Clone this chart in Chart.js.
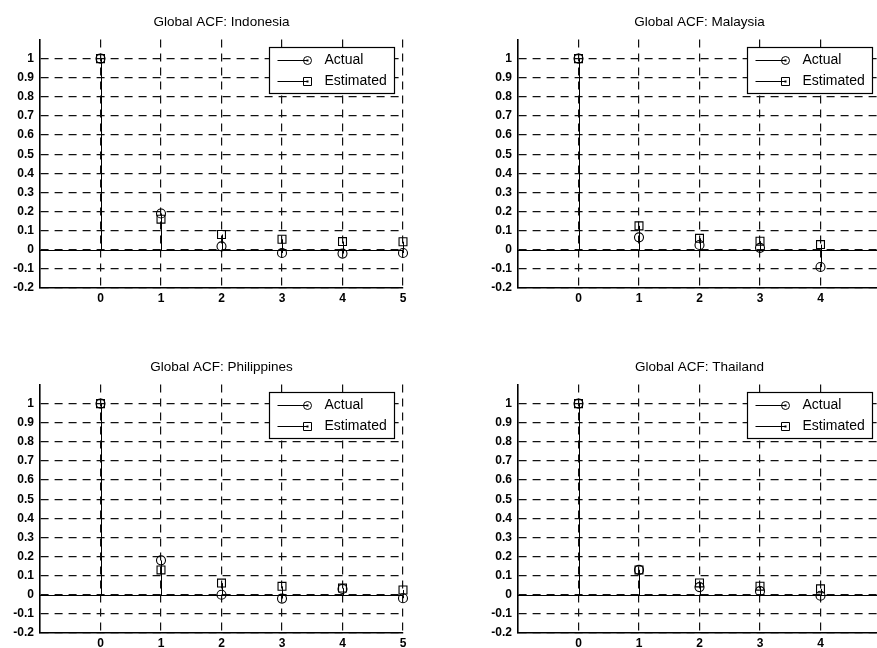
<!DOCTYPE html>
<html>
<head>
<meta charset="utf-8">
<title>Global ACF</title>
<script src="https://cdn.jsdelivr.net/npm/chart.js@4.4.1/dist/chart.umd.min.js"></script>
<style>
  html, body { margin: 0; padding: 0; background: #fff; overflow: hidden; }
  #page { position: relative; width: 877px; height: 648px; overflow: hidden; }
  #page canvas { position: absolute; }
</style>
</head>
<body>
<div id="page">
  <canvas id="indonesia" width="430" height="310" style="left:0;top:0"></canvas>
  <canvas id="malaysia" width="430" height="310" style="left:478px;top:0"></canvas>
  <canvas id="philippines" width="430" height="310" style="left:0;top:345px"></canvas>
  <canvas id="thailand" width="430" height="310" style="left:478px;top:345px"></canvas>
</div>
<script>
// lags shown on each panel
const lagsLong = [0, 1, 2, 3, 4, 5];
const lagsShort = [0, 1, 2, 3, 4];

const indonesiaActual = [1, 0.19, 0.018, -0.017, -0.02, -0.017];
const indonesiaEstimated = [1, 0.16, 0.08, 0.055, 0.043, 0.042];
const malaysiaActual = [1, 0.065, 0.025, 0.01, -0.09];
const malaysiaEstimated = [1, 0.125, 0.06, 0.045, 0.027];
const philippinesActual = [1, 0.18, 0.0, -0.02, 0.03, -0.018];
const philippinesEstimated = [1, 0.13, 0.061, 0.044, 0.035, 0.025];
const thailandActual = [1, 0.13, 0.04, 0.019, -0.005];
const thailandEstimated = [1, 0.13, 0.062, 0.045, 0.031];

const xTicks = [0, 1, 2, 3, 4, 5];
const yTicks = [-0.2, -0.1, 0, 0.1, 0.2, 0.3, 0.4, 0.5, 0.6, 0.7, 0.8, 0.9, 1];

const FONT = '"Liberation Sans", Arial, Helvetica, sans-serif';

// stem lines + zero baseline, drawn under the markers
const stemPlugin = {
  id: 'stems',
  beforeDatasetsDraw(chart) {
    const { ctx, chartArea, scales } = chart;
    const y0 = Math.round(scales.y.getPixelForValue(0)) + 0.5;
    ctx.save();
    ctx.strokeStyle = '#000';
    ctx.lineWidth = 1;
    ctx.beginPath();
    ctx.moveTo(chartArea.left, y0);
    ctx.lineTo(chartArea.right, y0);
    chart.data.datasets.forEach((ds, i) => {
      chart.getDatasetMeta(i).data.forEach(pt => {
        const x = Math.round(pt.x) + 0.5;
        ctx.moveTo(x, y0);
        ctx.lineTo(x, pt.y);
      });
    });
    ctx.stroke();
    ctx.restore();
  }
};

// boxed legend in the top right corner of the axes
const boxLegend = {
  id: 'boxLegend',
  afterDraw(chart) {
    const { ctx, chartArea } = chart;
    const left = Math.round(chartArea.right - 134) + 0.5;
    const top = Math.round(chartArea.top + 7) + 0.5;
    const w = 125, h = 46;
    ctx.save();
    ctx.fillStyle = '#fff';
    ctx.fillRect(left, top, w, h);
    ctx.strokeStyle = '#000';
    ctx.lineWidth = 1.2;
    ctx.strokeRect(left, top, w, h);

    ctx.font = '14px ' + FONT;
    ctx.textBaseline = 'middle';
    ctx.fillStyle = '#000';
    ctx.lineWidth = 1;
    chart.data.datasets.forEach((ds, i) => {
      const cy = Math.round(top + 12 + i * 21.5) + 0.5;
      const mx = left + 38;
      ctx.beginPath();
      ctx.moveTo(left + 8, cy);
      ctx.lineTo(mx, cy);
      ctx.stroke();
      ctx.beginPath();
      if (ds.pointStyle === 'rect') {
        ctx.rect(mx - 4, cy - 4, 8, 8);
      } else {
        ctx.arc(mx, cy, 4, 0, Math.PI * 2);
      }
      ctx.stroke();
      ctx.fillRect(mx - 1, cy - 1, 2, 2);
      ctx.fillText(ds.label, left + 55, cy);
    });
    ctx.restore();
  }
};

function makeAcf(id, country, lags, actual, estimated) {
  const toPoints = vals => lags.map((lag, i) => ({ x: lag, y: vals[i] }));
  return new Chart(document.getElementById(id), {
    type: 'scatter',
    data: {
      datasets: [
        {
          label: 'Actual',
          data: toPoints(actual),
          pointStyle: 'circle',
          pointRadius: 4.5,
          pointBorderWidth: 1.1,
          borderColor: '#000',
          backgroundColor: 'rgba(0,0,0,0)',
          clip: false
        },
        {
          label: 'Estimated',
          data: toPoints(estimated),
          pointStyle: 'rect',
          pointRadius: 5.6,
          pointBorderWidth: 1.1,
          borderColor: '#000',
          backgroundColor: 'rgba(0,0,0,0)',
          clip: false
        }
      ]
    },
    options: {
      responsive: false,
      animation: false,
      layout: { padding: { left: 0, right: 27, top: 0, bottom: 0 } },
      plugins: {
        legend: { display: false },
        tooltip: { enabled: false },
        title: {
          display: true,
          text: 'Global ACF: ' + country,
          fullSize: false,
          color: '#000',
          font: { family: FONT, size: 13.5, weight: 'normal' },
          padding: { top: 14.3, bottom: 9 }
        }
      },
      scales: {
        x: {
          type: 'linear',
          min: -1,
          max: 5,
          afterBuildTicks: s => { s.ticks = xTicks.map(v => ({ value: v })); },
          afterFit: s => { s.height = 22; },
          grid: { color: '#111', lineWidth: 1.2, drawTicks: false },
          border: { display: true, color: '#000', width: 1.6, dash: [8, 6] },
          ticks: {
            color: '#000',
            padding: 3,
            maxRotation: 0,
            font: { family: FONT, size: 12, weight: 'bold' },
            callback: v => String(v)
          }
        },
        y: {
          type: 'linear',
          min: -0.2,
          max: 1.1,
          afterBuildTicks: s => { s.ticks = yTicks.map(v => ({ value: v })); },
          afterFit: s => { s.width = 40; },
          grid: { color: '#111', lineWidth: 1.2, drawTicks: false },
          border: { display: true, color: '#000', width: 1.6, dash: [8, 6] },
          ticks: {
            color: '#000',
            padding: 6,
            font: { family: FONT, size: 12, weight: 'bold' },
            callback: v => String(Math.round(v * 10) / 10)
          }
        }
      }
    },
    plugins: [stemPlugin, boxLegend]
  });
}

makeAcf('indonesia', 'Indonesia', lagsLong, indonesiaActual, indonesiaEstimated);
makeAcf('malaysia', 'Malaysia', lagsShort, malaysiaActual, malaysiaEstimated);
makeAcf('philippines', 'Philippines', lagsLong, philippinesActual, philippinesEstimated);
makeAcf('thailand', 'Thailand', lagsShort, thailandActual, thailandEstimated);
</script>
</body>
</html>
